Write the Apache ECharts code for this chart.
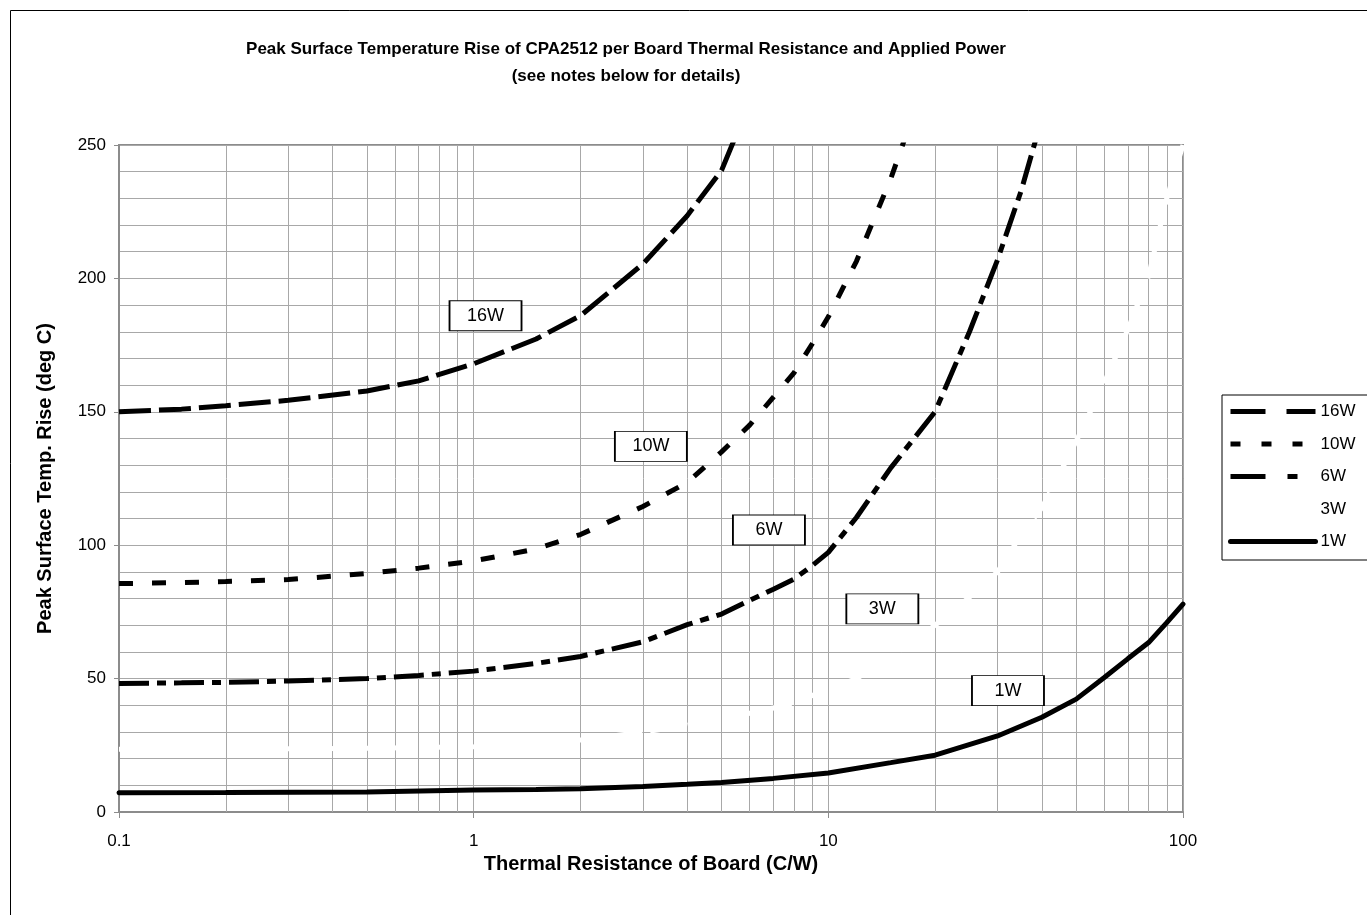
<!DOCTYPE html>
<html>
<head>
<meta charset="utf-8">
<script src="https://cdn.jsdelivr.net/npm/echarts@6/dist/echarts.min.js"></script>
<style>
html,body{margin:0;padding:0;background:#fff;}
#chart{width:1367px;height:915px;}
</style>
</head>
<body>
<div id="chart"></div>
<script>
// ---- data ----
const seriesNames = ['16W', '10W', '6W', '3W', '1W'];

const x16 = [0.1, 0.15, 0.2, 0.3, 0.5, 0.7, 1, 1.5, 2, 3, 4, 5, 6];
const y16 = [150, 151, 152.3, 154.3, 157.8, 161.6, 168, 177.3, 186, 205.4, 223.5, 240.5, 266];

const x10 = [0.1, 0.15, 0.2, 0.3, 0.5, 0.7, 1, 1.5, 2, 3, 4, 5, 6, 7, 8, 9, 10, 12, 15, 17];
const y10 = [85.6, 86, 86.4, 87.1, 89.4, 91.4, 94.1, 98.6, 104, 114.5, 123.5, 135, 145, 155.5, 164.6, 175.4, 185.6, 206.4, 237.4, 258];

const x6 = [0.1, 0.15, 0.2, 0.3, 0.5, 0.7, 1, 1.5, 2, 3, 4, 5, 6, 7, 8, 9, 10, 12, 15, 20, 25, 30, 35, 40];
const y6 = [48.2, 48.4, 48.6, 49.1, 50, 51.2, 52.8, 55.7, 58.3, 63.8, 70.2, 74.2, 79.3, 83.5, 87.3, 92.3, 97.3, 110.4, 129, 150, 180, 207, 233, 260];

const x3 = [0.1, 0.2, 0.3, 0.5, 0.7, 1, 1.5, 2, 3, 4, 5, 6, 7, 8, 10, 12, 15, 20, 25, 30, 35, 40, 50, 60, 70, 80, 90, 100];
const y3 = [23.5, 23.6, 23.7, 23.9, 24.1, 24.5, 25.5, 27, 29.9, 32.5, 35, 37, 39, 41, 46, 50, 58, 70, 80.5, 90, 104, 114, 139, 161, 181, 201, 230, 250];

const x1 = [0.1, 0.2, 0.5, 1, 1.5, 2, 3, 4, 5, 7, 10, 15, 20, 30, 40, 50, 60, 70, 80, 90, 100];
const y1 = [7.2, 7.3, 7.5, 8.2, 8.4, 8.7, 9.6, 10.4, 11.1, 12.6, 14.6, 18.5, 21.3, 28.5, 35.5, 42.3, 50.4, 57.5, 63.5, 71, 77.9];

// in-plot boxed labels (data coordinates)
const labelX = [1.08, 3.16, 6.8, 14.2, 32.1];
const labelY = [186, 137, 105.7, 76.1, 45.5];

// axis ticks
const xMin = 0.1, xMax = 100;
const yMin = 0, yMax = 250, yStep = 50;
const xMinorGrid = [0.2,0.3,0.4,0.5,0.6,0.7,0.8,0.9,2,3,4,5,6,7,8,9,20,30,40,50,60,70,80,90];

const titleText = 'Peak Surface Temperature Rise of CPA2512 per Board Thermal Resistance and Applied Power\n(see notes below for details)';
const xName = 'Thermal Resistance of Board (C/W)';
const yName = 'Peak Surface Temp. Rise (deg C)';

// ---- build ----
const FONT = '"Liberation Sans", Arial, sans-serif';
const GRID_C = '#a8a8a8';
const xs = [x16, x10, x6, x3, x1];
const ys = [y16, y10, y6, y3, y1];
const styles = [
  { color: '#000', type: [32, 8], cap: 'butt', legendType: [35, 21] },
  { color: '#000', type: [14, 19], cap: 'butt', legendType: [10, 21] },
  { color: '#000', type: [30, 8, 9, 8], cap: 'butt', legendType: [35, 22, 10, 30] },
  { color: '#fff', type: [30, 8], cap: 'butt', legendType: [30, 8] },
  { color: '#000', type: 'solid', cap: 'round', legendType: 'solid' }
];

const series = seriesNames.map((name, i) => ({
  name: name,
  type: 'line',
  showSymbol: false,
  symbol: 'none',
  smooth: false,
  clip: true,
  z: 3,
  color: styles[i].color,
  lineStyle: { color: styles[i].color, width: 5, type: styles[i].type, cap: styles[i].cap },
  data: xs[i].map((x, j) => [x, ys[i][j]]),
  markPoint: {
    symbol: 'rect',
    symbolSize: [72, 30],
    silent: true,
    z: 6,
    itemStyle: { color: '#fff', borderColor: '#000', borderWidth: 1.2 },
    label: { show: true, position: 'inside', color: '#000', fontSize: 18, fontFamily: FONT, formatter: name },
    data: [{ coord: [labelX[i], labelY[i]], name: name }]
  }
}));

series.unshift({
  name: 'minorgrid',
  type: 'line',
  data: [],
  z: 1,
  silent: true,
  markLine: {
    silent: true,
    symbol: 'none',
    z: 1,
    label: { show: false },
    lineStyle: { color: GRID_C, width: 1, type: 'solid' },
    data: xMinorGrid.map(v => ({ xAxis: v }))
  }
});

const chart = echarts.init(document.getElementById('chart'), null, { renderer: 'canvas' });
chart.setOption({
  animation: false,
  backgroundColor: '#fff',
  textStyle: { fontFamily: FONT },
  title: {
    text: titleText,
    left: 621,
    top: 31,
    textAlign: 'center',
    textStyle: { fontSize: 17, fontWeight: 'bold', color: '#000', lineHeight: 27, fontFamily: FONT }
  },
  graphic: [{
    type: 'rect',
    silent: true,
    shape: { x: 10.5, y: 10.5, width: 1400, height: 1000 },
    style: { fill: 'none', stroke: '#000', lineWidth: 1 }
  }],
  legend: {
    orient: 'vertical',
    left: 1222,
    top: 395,
    data: seriesNames.map((n, i) => ({
      name: n,
      lineStyle: { width: 5, type: styles[i].legendType, cap: styles[i].cap, color: styles[i].color }
    })),
    itemWidth: 85,
    itemHeight: 14,
    itemGap: 15.5,
    padding: [8, 60, 10, 6],
    borderColor: '#000',
    borderWidth: 1,
    backgroundColor: '#fff',
    selectedMode: false,
    itemStyle: { color: 'rgba(0,0,0,0)', borderWidth: 0, opacity: 0 },
    lineStyle: { width: 5 },
    textStyle: { fontSize: 17, color: '#000', fontFamily: FONT }
  },
  grid: {
    left: 119, top: 145, width: 1064, height: 667,
    show: true, borderColor: '#8c8c8c', borderWidth: 2, backgroundColor: 'transparent'
  },
  xAxis: {
    type: 'log',
    logBase: 10,
    min: xMin,
    max: xMax,
    name: xName,
    nameLocation: 'middle',
    nameGap: 34,
    nameTextStyle: { fontSize: 20, fontWeight: 'bold', color: '#000', fontFamily: FONT },
    axisLine: { show: true, lineStyle: { color: '#8c8c8c', width: 2 } },
    axisTick: { show: true, length: 6, lineStyle: { color: '#8c8c8c', width: 1 } },
    axisLabel: { fontSize: 17, color: '#000', margin: 21, fontFamily: FONT, formatter: v => String(+v.toPrecision(3)) },
    splitLine: { show: true, lineStyle: { color: GRID_C, width: 1 } },
    minorTick: { show: false },
    minorSplitLine: { show: false }
  },
  yAxis: {
    type: 'value',
    min: yMin,
    max: yMax,
    interval: yStep,
    name: yName,
    nameLocation: 'middle',
    nameGap: 64,
    nameRotate: 90,
    nameTextStyle: { fontSize: 20, fontWeight: 'bold', color: '#000', fontFamily: FONT },
    axisLine: { show: true, lineStyle: { color: '#8c8c8c', width: 2 } },
    axisTick: { show: true, length: 5, lineStyle: { color: '#8c8c8c', width: 1 } },
    axisLabel: { fontSize: 17, color: '#000', margin: 13, fontFamily: FONT },
    splitLine: { show: true, lineStyle: { color: GRID_C, width: 1 } },
    minorTick: { show: false, splitNumber: 5 },
    minorSplitLine: { show: true, lineStyle: { color: GRID_C, width: 1 } }
  },
  series: series
});
</script>
</body>
</html>
